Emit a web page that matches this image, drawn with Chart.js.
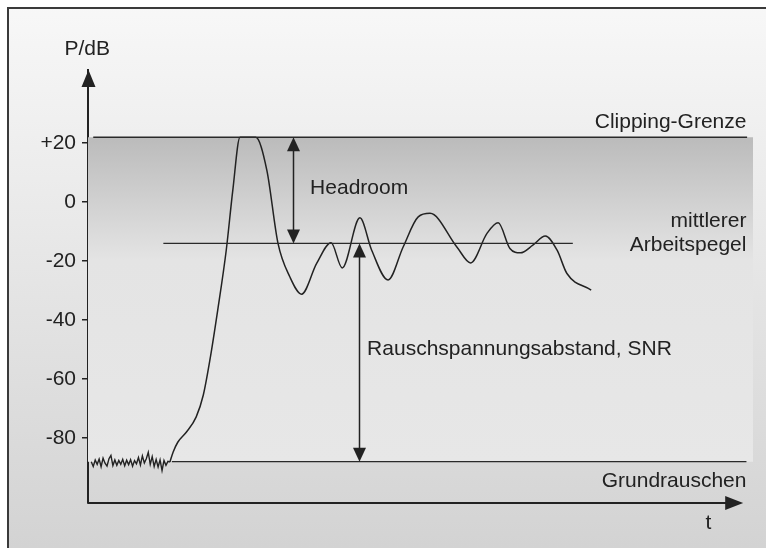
<!DOCTYPE html>
<html><head><meta charset="utf-8">
<script src="https://cdn.jsdelivr.net/npm/chart.js@4/dist/chart.umd.min.js"></script>
<style>html,body{margin:0;padding:0;background:#fff}canvas{display:block}</style>
</head><body>
<canvas id="c" width="766" height="548"></canvas>
<script>
// ---- data (t: arbitrary time units, values in dB) ----
const yTicks = [20, 0, -20, -40, -60, -80];
const clipLevel = 22;      // Clipping-Grenze
const meanLevel = -14;     // mittlerer Arbeitspegel
const floorLevel = -88;    // Grundrauschen

const noiseT = [0.5,0.8,1.1,1.4,1.7,2.0,2.3,2.6,2.9,3.2,3.5,3.8,4.1,4.4,4.7,5.0,5.3,5.6,5.9,6.2,
                6.5,6.8,7.1,7.4,7.7,8.0,8.3,8.6,8.9,9.2,9.5,9.8,10.1,10.4,10.7,11.0,11.3,11.6,11.9,12.2,12.5];
const noiseV = [-88.0,-89.6,-87.4,-88.9,-87.1,-89.7,-86.8,-88.5,-89.5,-87.0,-85.9,-89.3,-87.4,-89.2,-87.6,-88.9,-87.2,-89.4,-87.5,-89.0,
                -87.3,-89.5,-87.6,-88.7,-86.6,-89.1,-86.0,-88.4,-87.0,-84.8,-88.9,-86.3,-89.6,-87.2,-89.8,-87.4,-91.0,-87.6,-89.2,-87.9,-88.1];

const signalT = [12.5,13.0,13.7,15.0,16.5,17.6,18.6,19.8,21.1,22.1,23.2,25.6,27.3,29.0,30.8,32.6,34.9,37.1,38.8,41.5,
                 43.3,45.8,48.1,50.4,52.2,56.3,58.4,60.9,62.6,64.4,66.0,67.9,69.8,71.6,73.1,76.8];
const signalV = [-88.1,-84.7,-81.4,-78.0,-72.9,-65.4,-53.6,-36.6,-16.3,4.0,22,22,10.8,-14.0,-25.3,-31.2,-20.8,-13.8,-22.3,-5.3,
                 -16.3,-26.4,-15.2,-5.0,-3.8,-15.2,-20.6,-10.6,-7.0,-15.7,-17.2,-14.6,-11.5,-16.3,-24.2,-29.8];

const bandT  = [0, 101.5];
const clipT  = [0.8, 100.6];
const meanT  = [11.5, 74.0];
const floorT = [12.8, 100.5];

const headroomT = 31.3;
const snrT = 41.3;

const labels = [
  {text: 'P/dB', t: -3.6, v: 51.9, align: 'left'},
  {text: 'Clipping-Grenze', t: 100.5, v: 27.1, align: 'right'},
  {text: 'Headroom', t: 33.9, v: 4.6, align: 'left'},
  {text: 'mittlerer', t: 100.5, v: -6.4, align: 'right'},
  {text: 'Arbeitspegel', t: 100.5, v: -14.6, align: 'right'},
  {text: 'Rauschspannungsabstand, SNR', t: 42.6, v: -49.8, align: 'left'},
  {text: 'Grundrauschen', t: 100.5, v: -94.6, align: 'right'},
  {text: 't', t: 94.7, v: -108.8, align: 'center'}
];

const FONT = '"Liberation Sans", Arial, Helvetica, sans-serif';
const INK = '#222222';
Chart.defaults.font.family = FONT;

const toXY = (ts, vs) => ts.map((t, i) => ({x: t, y: vs[i]}));
const flat = (ts, v) => ts.map(t => ({x: t, y: v}));

function arrowHead(ctx, x, y, dx, dy, len, half) {
  // tip at (x,y), pointing in direction (dx,dy)
  const px = -dy, py = dx;
  ctx.beginPath();
  ctx.moveTo(x, y);
  ctx.lineTo(x - dx * len + px * half, y - dy * len + py * half);
  ctx.lineTo(x - dx * len - px * half, y - dy * len - py * half);
  ctx.closePath();
  ctx.fill();
}

const bgPlugin = {
  id: 'bg',
  beforeDraw(chart) {
    const ctx = chart.ctx;
    const g = ctx.createLinearGradient(0, 0, 0, chart.height);
    g.addColorStop(0, '#f8f8f8');
    g.addColorStop(1, '#d3d3d3');
    ctx.save();
    ctx.fillStyle = g;
    ctx.fillRect(0, 0, chart.width, chart.height);
    ctx.fillStyle = '#ffffff';
    ctx.fillRect(0, 0, chart.width, 7);
    ctx.fillRect(0, 0, 7, chart.height);
    ctx.strokeStyle = '#3a3a3a';
    ctx.lineWidth = 2;
    ctx.beginPath();
    ctx.moveTo(8, chart.height);
    ctx.lineTo(8, 8);
    ctx.lineTo(chart.width, 8);
    ctx.stroke();
    ctx.restore();
  }
};

const annotPlugin = {
  id: 'annot',
  afterDraw(chart) {
    const ctx = chart.ctx;
    const xs = chart.scales.x, ys = chart.scales.y;
    const X = t => xs.getPixelForValue(t), Y = v => ys.getPixelForValue(v);
    const ca = chart.chartArea;
    ctx.save();
    ctx.fillStyle = INK;
    ctx.strokeStyle = INK;
    // y axis arrow
    arrowHead(ctx, ca.left + 0.5, ca.top, 0, -1, 17, 7);
    // x axis line + arrow
    ctx.lineWidth = 2;
    ctx.beginPath();
    ctx.moveTo(ca.left - 0.5, Y(-102));
    ctx.lineTo(X(98), Y(-102));
    ctx.stroke();
    arrowHead(ctx, X(100), Y(-102), 1, 0, 18, 7);
    // Headroom double arrow
    ctx.lineWidth = 1.5;
    const hx = Math.round(X(headroomT)) + 0.5;
    ctx.beginPath();
    ctx.moveTo(hx, Y(clipLevel) + 6);
    ctx.lineTo(hx, Y(meanLevel) - 6);
    ctx.stroke();
    arrowHead(ctx, hx, Y(clipLevel), 0, -1, 14, 6.5);
    arrowHead(ctx, hx, Y(meanLevel), 0, 1, 14, 6.5);
    // SNR double arrow
    const sx = Math.round(X(snrT)) + 0.5;
    ctx.beginPath();
    ctx.moveTo(sx, Y(meanLevel) + 6);
    ctx.lineTo(sx, Y(floorLevel) - 6);
    ctx.stroke();
    arrowHead(ctx, sx, Y(meanLevel), 0, -1, 14, 6.5);
    arrowHead(ctx, sx, Y(floorLevel), 0, 1, 14, 6.5);
    // texts
    ctx.font = '21px ' + FONT;
    ctx.textBaseline = 'middle';
    labels.forEach(l => {
      ctx.textAlign = l.align;
      ctx.fillText(l.text, X(l.t), Y(l.v));
    });
    ctx.restore();
  }
};

const bandGradient = (c) => {
  const chart = c.chart;
  if (!chart.chartArea) return '#dddddd';
  const ys = chart.scales.y;
  const g = chart.ctx.createLinearGradient(0, ys.getPixelForValue(clipLevel), 0, ys.getPixelForValue(floorLevel));
  g.addColorStop(0, '#bbbbbb');
  g.addColorStop(0.38, '#e4e4e4');
  g.addColorStop(1, '#e7e7e7');
  return g;
};

new Chart(document.getElementById('c'), {
  type: 'line',
  data: {
    datasets: [
      {label: 'band', data: flat(bandT, clipLevel), fill: {value: floorLevel}, backgroundColor: bandGradient,
       borderWidth: 0, pointRadius: 0, order: 5},
      {label: 'Clipping-Grenze', data: flat(clipT, clipLevel), borderColor: '#2a2a2a', borderWidth: 1.3, pointRadius: 0, fill: false},
      {label: 'mittlerer Arbeitspegel', data: flat(meanT, meanLevel), borderColor: '#2a2a2a', borderWidth: 1.3, pointRadius: 0, fill: false},
      {label: 'Grundrauschen', data: flat(floorT, floorLevel), borderColor: '#2a2a2a', borderWidth: 1.3, pointRadius: 0, fill: false},
      {label: 'noise', data: toXY(noiseT, noiseV), borderColor: INK, borderWidth: 1.4, pointRadius: 0, tension: 0, fill: false},
      {label: 'signal', data: toXY(signalT, signalV), borderColor: INK, borderWidth: 1.5, pointRadius: 0,
       cubicInterpolationMode: 'monotone', fill: false}
    ]
  },
  options: {
    responsive: false,
    animation: false,
    layout: {padding: {left: 8, right: 13, top: 70, bottom: 45}},
    plugins: {legend: {display: false}, tooltip: {enabled: false}},
    scales: {
      x: {type: 'linear', min: 0, max: 101.5, display: false},
      y: {
        type: 'linear', min: -102, max: 44.8,
        afterFit(s) { s.width = 80; },
        afterBuildTicks(s) { s.ticks = yTicks.map(v => ({value: v})); },
        ticks: {callback: v => (v > 0 ? '+' + v : String(v)), font: {family: FONT, size: 21}, color: INK, padding: 6},
        grid: {drawOnChartArea: false, drawTicks: true, tickLength: 6, color: INK, lineWidth: 1.5},
        border: {display: true, color: INK, width: 2}
      }
    }
  },
  plugins: [bgPlugin, annotPlugin]
});
</script>
</body></html>
